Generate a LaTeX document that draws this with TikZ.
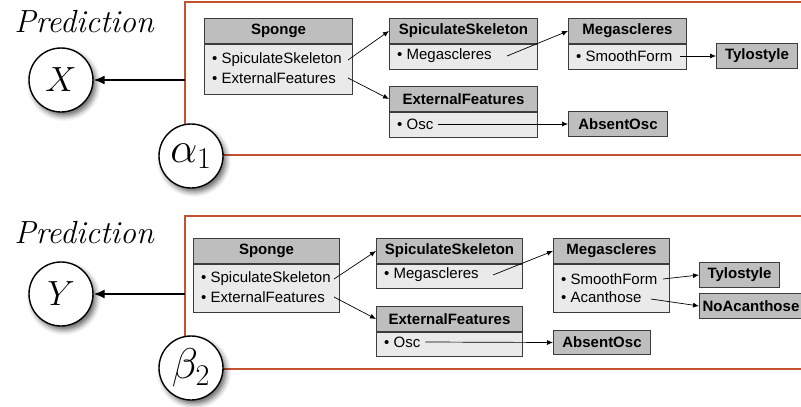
\documentclass[tikz,border=0pt]{standalone}
\usepackage{fix-cm}
\usepackage{fontspec}
\setsansfont{Liberation Sans}
\usetikzlibrary{arrows.meta,shadows.blur}

\definecolor{framered}{HTML}{C4522E}
\definecolor{ttlgray}{HTML}{BEBEBE}
\definecolor{bodygray}{HTML}{EAEAEA}
\definecolor{edgegray}{HTML}{3C3C3C}

\tikzset{
  ttl/.style={draw=edgegray, fill=ttlgray, line width=1pt, anchor=north west,
    minimum height=25pt, inner sep=0pt, font=\sffamily\bfseries\fontsize{15}{17}\selectfont},
  bdy/.style={draw=edgegray, fill=bodygray, line width=1pt, anchor=north west, inner sep=0pt},
  item/.style={anchor=west, inner sep=2pt, font=\sffamily\fontsize{15}{17}\selectfont},
  var/.style={circle, draw=black, line width=1.4pt, fill=white, minimum size=64pt, inner sep=0pt,
    blur shadow={shadow xshift=3pt, shadow yshift=-4pt, shadow blur radius=5pt, shadow opacity=60}},
  link/.style={-{Latex[length=6pt,width=5pt]}, line width=0.7pt},
  mainlink/.style={-{Latex[length=11pt,width=9pt]}, line width=1.3pt},
  frame/.style={draw=framered, line width=1.5pt},
  pred/.style={font=\fontsize{32}{36}\selectfont\itshape, inner sep=0pt},
  outvar/.style={var, font=\fontsize{35}{38}\selectfont},
  parvar/.style={var, font=\fontsize{43}{46}\selectfont},
}

\begin{document}
\begin{tikzpicture}[x=1pt, y=-1pt]
\useasboundingbox (0,0) rectangle (801,407);

% ---------------- upper model ----------------
\draw[frame] (801,2) -| (185,155) -- (801,155);
\coordinate (f1) at (185,80);
\node[pred] (p1) at (84,22) {Prediction};
\node[outvar] (X) at (61,80) {$X$};
\node[parvar] (a1) at (191,156) {$\alpha_1$};
\draw[mainlink] (f1) -- (X.east);

% Sponge
\node[ttl, minimum width=148pt] (sp1t) at (204,18) {Sponge};
\node[bdy, minimum width=148pt, minimum height=50pt] (sp1b) at (sp1t.south west) {};
\node[item] (sp1a) at (210,60) {• SpiculateSkeleton};
\node[item] (sp1c) at (210,78) {• ExternalFeatures};
% SpiculateSkeleton
\node[ttl, minimum width=148pt] (ss1t) at (389,18) {SpiculateSkeleton};
\node[bdy, minimum width=148pt, minimum height=25pt] (ss1b) at (ss1t.south west) {};
\node[item] (ss1a) at (395,56) {• Megascleres};
% Megascleres
\node[ttl, minimum width=118pt] (mg1t) at (568,18) {Megascleres};
\node[bdy, minimum width=118pt, minimum height=25pt] (mg1b) at (mg1t.south west) {};
\node[item] (mg1a) at (574,56) {• SmoothForm};
\node[ttl, minimum width=81pt] (ty1) at (716,43) {Tylostyle};
% ExternalFeatures
\node[ttl, minimum width=148pt] (ef1t) at (389,86) {ExternalFeatures};
\node[bdy, minimum width=148pt, minimum height=25pt] (ef1b) at (ef1t.south west) {};
\node[item] (ef1a) at (395,124) {• Osc};
\node[ttl, minimum width=99pt] (ab1) at (568,111) {AbsentOsc};

\draw[link] ([xshift=-5pt]sp1b.east |- sp1a) -- (ss1t.west);
\draw[link] ([xshift=-5pt]sp1b.east |- sp1c) -- (ef1t.west);
\draw[link] ([xshift=-31pt]ss1b.east |- ss1a) -- (mg1t.west);
\draw[link] ([xshift=-7pt]mg1b.east |- mg1a) -- (ty1.west);
\draw[link] ([xshift=3pt]ef1a.east) -- (ab1.west);

% ---------------- lower model ----------------
\draw[frame] (801,216) -| (185,369) -- (801,369);
\coordinate (f2) at (185,294);
\node[pred] (p2) at (84,233) {Prediction};
\node[outvar] (Y) at (61,294) {$Y$};
\node[parvar] (b2) at (191,368) {$\beta_2$};
\draw[mainlink] (f2) -- (Y.east);

% Sponge
\node[ttl, minimum width=146pt] (sp2t) at (193,238) {Sponge};
\node[bdy, minimum width=146pt, minimum height=48pt] (sp2b) at (sp2t.south west) {};
\node[item] (sp2a) at (199,279) {• SpiculateSkeleton};
\node[item] (sp2c) at (199,297) {• ExternalFeatures};
% SpiculateSkeleton
\node[ttl, minimum width=146pt] (ss2t) at (376,238) {SpiculateSkeleton};
\node[bdy, minimum width=146pt, minimum height=24pt] (ss2b) at (ss2t.south west) {};
\node[item] (ss2a) at (382,275) {• Megascleres};
% Megascleres
\node[ttl, minimum width=116pt] (mg2t) at (553,238) {Megascleres};
\node[bdy, minimum width=116pt, minimum height=48pt] (mg2b) at (mg2t.south west) {};
\node[item] (mg2a) at (559,279) {• SmoothForm};
\node[item] (mg2c) at (559,297) {• Acanthose};
\node[ttl, minimum width=80pt] (ty2) at (699,262) {Tylostyle};
\node[ttl, minimum width=103pt] (na2) at (699,293) {NoAcanthose};
% ExternalFeatures
\node[ttl, minimum width=146pt] (ef2t) at (376,306) {ExternalFeatures};
\node[bdy, minimum width=146pt, minimum height=24pt] (ef2b) at (ef2t.south west) {};
\node[item] (ef2a) at (382,342) {• Osc};
\node[ttl, minimum width=97pt, minimum height=24pt] (ab2) at (553,330) {AbsentOsc};

\draw[link] ([xshift=-6pt]sp2b.east |- sp2a) -- (ss2t.west);
\draw[link] ([xshift=-6pt]sp2b.east |- sp2c) -- (ef2t.west);
\draw[link] ([xshift=-30pt]ss2b.east |- ss2a) -- (mg2t.west);
\draw[link] ([xshift=-7pt]mg2b.east |- mg2a) -- (ty2.west);
\draw[link] ([xshift=-19pt,yshift=-2pt]mg2b.east |- mg2c) -- (na2.west);
\draw[link] ([xshift=3pt]ef2a.east) -- (ab2.west);
\end{tikzpicture}
\end{document}
